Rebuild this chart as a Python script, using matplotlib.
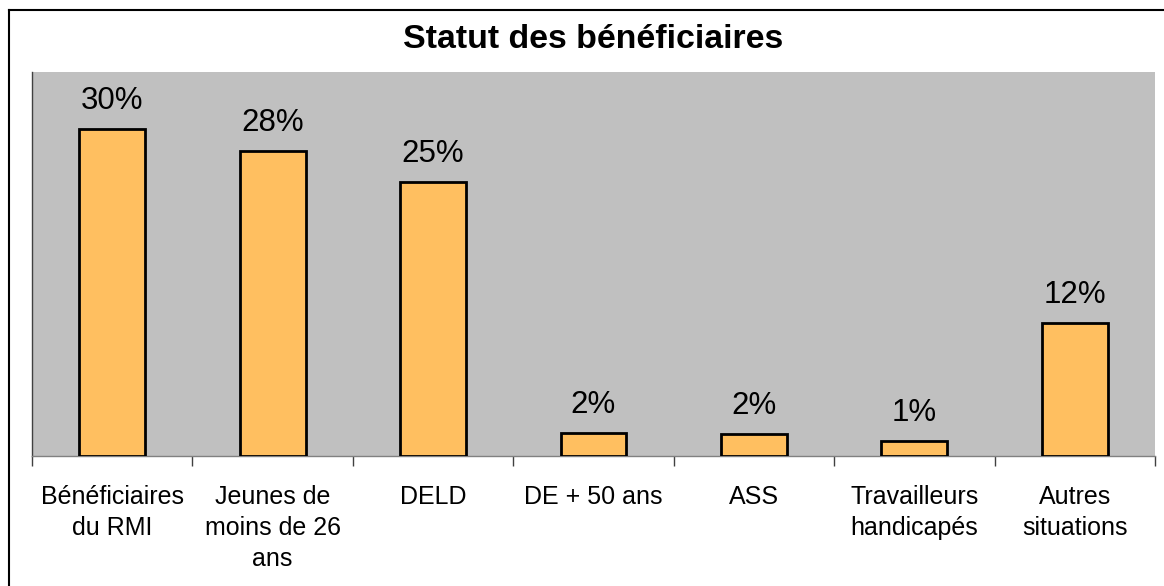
import matplotlib
matplotlib.use("Agg")
import matplotlib.pyplot as plt
from matplotlib.lines import Line2D
import numpy as np

categories = ["Bénéficiaires\ndu RMI", "Jeunes de\nmoins de 26\nans", "DELD",
              "DE + 50 ans", "ASS", "Travailleurs\nhandicapés", "Autres\nsituations"]
values = [29.8, 27.8, 25.0, 2.1, 2.0, 1.4, 12.1]
labels = ["30%", "28%", "25%", "2%", "2%", "1%", "12%"]
title = "Statut des bénéficiaires"

plt.rcParams['font.family'] = ['Liberation Sans', 'DejaVu Sans']

W, H = 1164, 586
fig = plt.figure(figsize=(W / 100, H / 100), dpi=100)
fig.patch.set_facecolor("white")

# figure border (top and left visible)
fig.add_artist(Line2D([9 / W, 9 / W], [0, 1 - 10 / H], transform=fig.transFigure, color="black", lw=1.5))
fig.add_artist(Line2D([9 / W, 1], [1 - 10 / H, 1 - 10 / H], transform=fig.transFigure, color="black", lw=1.5))

left, right, top, base = 32, 1155, 72, 456
ax = fig.add_axes([left / W, (H - base) / H, (right - left) / W, (base - top) / H])
ax.set_facecolor("#C0C0C0")

x = np.arange(len(values))
ax.bar(x, values, width=0.41, color="#FFBF60", edgecolor="black", linewidth=2, zorder=3)
ax.set_xlim(-0.5, len(values) - 0.5)
ax.set_ylim(0, 35)

for xi, v, lab in zip(x, values, labels):
    ax.annotate(lab, (xi, v), xytext=(0, 14.5), textcoords="offset points",
                ha="center", va="baseline", fontsize=22.5, color="black")

ax.set_yticks([])
ax.set_xticks(x)
ax.set_xticklabels(categories, fontsize=18, linespacing=1.36)
ax.tick_params(axis="x", which="major", length=0, pad=21)
ax.set_xticks(np.arange(len(values) + 1) - 0.5, minor=True)
ax.tick_params(axis="x", which="minor", length=7, width=1, color="#404040")

for s in ["top", "right"]:
    ax.spines[s].set_visible(False)
ax.spines["left"].set_color("#404040")
ax.spines["bottom"].set_color("#808080")
ax.spines["left"].set_linewidth(1)
ax.spines["bottom"].set_linewidth(1)

fig.text(593 / W, 1 - 40 / H, title, ha="center", va="center", fontsize=24.4, fontweight="bold")

fig.savefig("out.png", dpi=100)
